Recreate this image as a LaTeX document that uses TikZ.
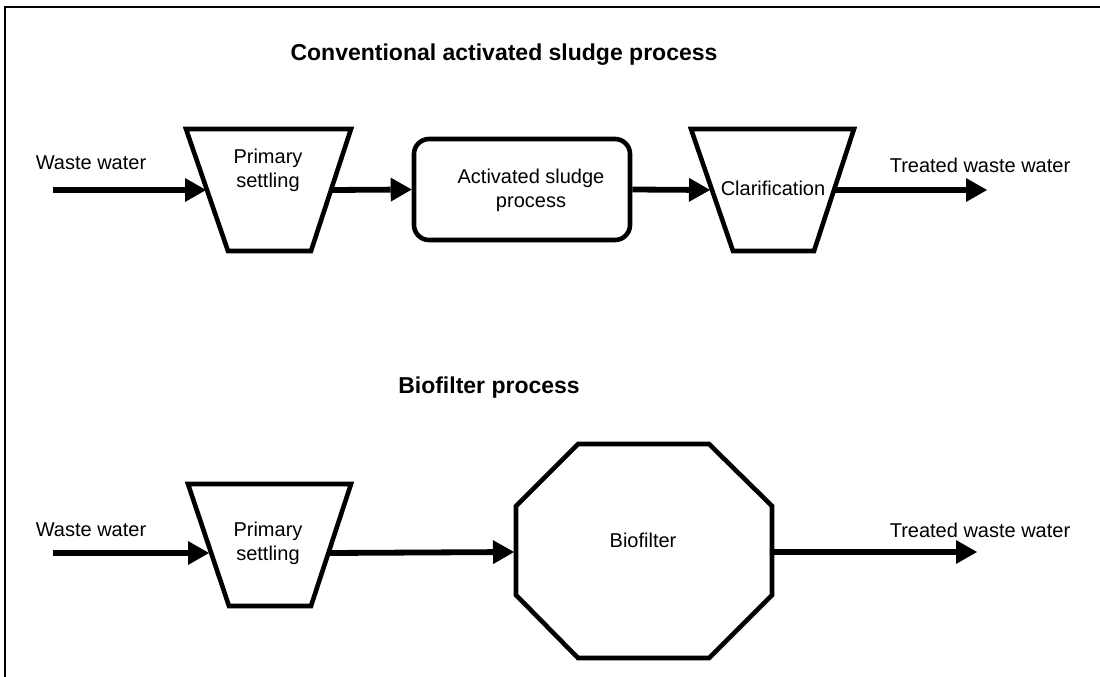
\documentclass[tikz,border=0pt]{standalone}
\usepackage{fontspec}
\setmainfont{Liberation Sans}
\usetikzlibrary{arrows.meta}
\begin{document}
\begin{tikzpicture}[x=1pt,y=-1pt,
  shp/.style={draw, line width=4.6pt, line join=miter},
  flow/.style={line width=5.8pt, -{Triangle[length=21pt,width=24pt,line width=0pt]}},
  lbl/.style={font=\fontsize{20}{24}\selectfont, align=center, inner sep=0pt},
  ttl/.style={font=\fontsize{23}{27}\selectfont\bfseries, inner sep=0pt},
  frame/.style={line width=2.4pt}]
\useasboundingbox (0,0) rectangle (1100,677);
% frame (only left and top visible)
\draw[frame] (5,680) -- (5,7) -- (1103,7);

% ---------- Row 1 ----------
\node[ttl] (title1) at (504,55) {Conventional activated sludge process};

\node[lbl] (ww1) at (91,163) {Waste water};
\coordinate (ww1s) at (53,190);

\draw[shp] (186,129) -- (351,129) -- (311,251) -- (228,251) -- cycle;
\node[lbl] (ps1) at (268,170) {Primary\\settling};
\coordinate (ps1in) at (206,190);
\coordinate (ps1out) at (331,190);

\node[shp, rounded corners=15pt, minimum width=216pt, minimum height=101pt] (asp) at (522,189.5) {};
\node[lbl] (asplbl) at (531,190) {Activated sludge\\process};

\draw[shp] (691,129) -- (854,129) -- (814,251) -- (733,251) -- cycle;
\node[lbl] (clar) at (773,188) {Clarification};
\coordinate (clarin) at (710,190);
\coordinate (clarout) at (834,190);

\node[lbl] (tww1) at (980,165) {Treated waste water};
\coordinate (tww1e) at (987,190);

\draw[flow] (ww1s) -- (ps1in);
\draw[flow] (ps1out) -- (asp.west);
\draw[flow] (asp.east) -- (clarin);
\draw[flow] (clarout) -- (tww1e);

% ---------- Row 2 ----------
\node[ttl] (title2) at (489,388) {Biofilter process};

\node[lbl] (ww2) at (91,530) {Waste water};
\coordinate (ww2s) at (53,553);

\draw[shp] (188,484) -- (351,484) -- (311,606) -- (229,606) -- cycle;
\node[lbl] (ps2) at (268,543) {Primary\\settling};
\coordinate (ps2in) at (209,553);
\coordinate (ps2out) at (329,553);

\draw[shp] (578,444) -- (709,444) -- (772,506) -- (772,595) -- (709,658)
  -- (578,658) -- (516,595) -- (516,506) -- cycle;
\node[lbl] (bf) at (643,540) {Biofilter};
\coordinate (bfin) at (514,552);
\coordinate (bfout) at (772,552);

\node[lbl] (tww2) at (980,530) {Treated waste water};
\coordinate (tww2e) at (977,552);

\draw[flow] (ww2s) -- (ps2in);
\draw[flow] (ps2out) -- (bfin);
\draw[flow] (bfout) -- (tww2e);
\end{tikzpicture}
\end{document}
